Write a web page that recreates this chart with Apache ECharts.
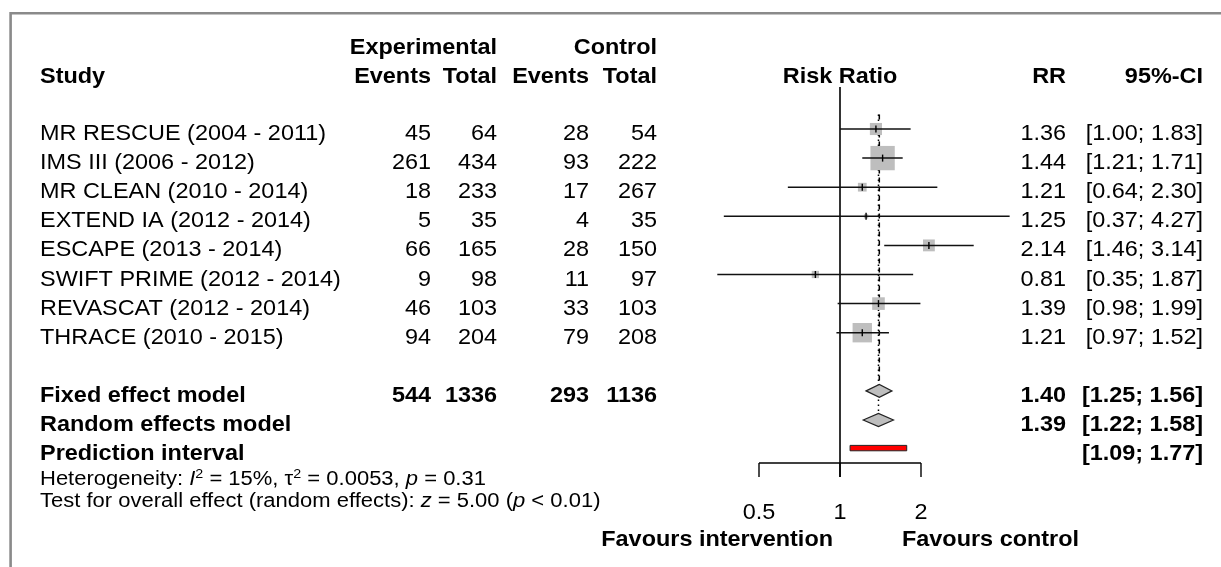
<!DOCTYPE html>
<html>
<head>
<meta charset="utf-8">
<script src="https://cdn.jsdelivr.net/npm/echarts@6/dist/echarts.min.js"></script>
<style>
  html, body { margin: 0; padding: 0; background: #ffffff; }
  #chart { width: 1221px; height: 567px; }
</style>
</head>
<body>
<div id="chart"></div>
<script>
// ---- Study data (risk ratios, 95% CIs, counts) ----
const studies = [
  'MR RESCUE (2004 - 2011)', 'IMS III (2006 - 2012)', 'MR CLEAN (2010 - 2014)',
  'EXTEND IA (2012 - 2014)', 'ESCAPE (2013 - 2014)', 'SWIFT PRIME (2012 - 2014)',
  'REVASCAT (2012 - 2014)', 'THRACE (2010 - 2015)'
];
const expEvents  = [45, 261, 18, 5, 66, 9, 46, 94];
const expTotal   = [64, 434, 233, 35, 165, 98, 103, 204];
const ctrlEvents = [28, 93, 17, 4, 28, 11, 33, 79];
const ctrlTotal  = [54, 222, 267, 35, 150, 97, 103, 208];
const riskRatio  = [1.36, 1.44, 1.21, 1.25, 2.14, 0.81, 1.39, 1.21];
const ciLower    = [1.00, 1.21, 0.64, 0.37, 1.46, 0.35, 0.98, 0.97];
const ciUpper    = [1.83, 1.71, 2.30, 4.27, 3.14, 1.87, 1.99, 1.52];
const weights    = [9.4, 37.9, 4.9, 1.2, 9.0, 3.4, 10.2, 24.1];   // % weight (fixed effect)

// ---- Pooled results ----
const pooledCounts       = [544, 1336, 293, 1136];
const fixedEffect        = [1.40, 1.25, 1.56];   // estimate, lower, upper
const randomEffects      = [1.39, 1.22, 1.58];
const predictionInterval = [1.09, 1.77];
const heterogeneity      = { i2: '15%', tau2: '0.0053', p: '0.31' };
const overallTest        = { z: '5.00', p: '< 0.01' };

// ---- Axis ----
const axisTicks    = [0.5, 1, 2];
const axisTickText = ['0.5', '1', '2'];
const favourLabels = ['Favours intervention', 'Favours control'];

// ---- Layout (row units on the y axis, pixels for table columns) ----
const FONT = '"Liberation Sans", Arial, Helvetica, sans-serif';
const FS = 22, FS_SMALL = 20, STRETCH = 1.065, STRETCH_SMALL = 1.10;
const COL = { study: 40, expEv: 431, expTot: 497, ctrlEv: 589, ctrlTot: 657, rr: 1066, ci: 1203 };
const ROW_FIXED = 9, ROW_RANDOM = 10, ROW_PRED = 11;
const HEAD1 = -2.79, HEAD2 = -1.80, TEXT_SHIFT = 0.17;
const ROW_HET = 12.03, ROW_TEST = 12.81, ROW_TICKLAB = 13.20, ROW_FAVOUR = 14.12;
const ROW_REF_TOP = -1.443, ROW_AXIS = 11.478, ROW_TICK_END = 11.959, ROW_POOL_TOP = -0.5;
const BOX_SCALE = 3.95, DIAMOND_HALF = 6.5;

const fmt = v => v.toFixed(2);
const ciText = (lo, hi) => '[' + fmt(lo) + '; ' + fmt(hi) + ']';

// table text cells
const cells = [];
function cell(text, row, align, bold, opts) {
  cells.push(Object.assign({ text, row, align, bold }, opts));
}
cell('Experimental', HEAD1, 'right', true, { px: COL.expTot });
cell('Control', HEAD1, 'right', true, { px: COL.ctrlTot });
cell('Study', HEAD2, 'left', true, { px: COL.study });
cell('Events', HEAD2, 'right', true, { px: COL.expEv });
cell('Total', HEAD2, 'right', true, { px: COL.expTot });
cell('Events', HEAD2, 'right', true, { px: COL.ctrlEv });
cell('Total', HEAD2, 'right', true, { px: COL.ctrlTot });
cell('Risk Ratio', HEAD2, 'center', true, { xv: 1 });
cell('RR', HEAD2, 'right', true, { px: COL.rr });
cell('95%-CI', HEAD2, 'right', true, { px: COL.ci });

studies.forEach((name, i) => {
  const r = i + TEXT_SHIFT;
  cell(name, r, 'left', false, { px: COL.study });
  cell(String(expEvents[i]), r, 'right', false, { px: COL.expEv });
  cell(String(expTotal[i]), r, 'right', false, { px: COL.expTot });
  cell(String(ctrlEvents[i]), r, 'right', false, { px: COL.ctrlEv });
  cell(String(ctrlTotal[i]), r, 'right', false, { px: COL.ctrlTot });
  cell(fmt(riskRatio[i]), r, 'right', false, { px: COL.rr });
  cell(ciText(ciLower[i], ciUpper[i]), r, 'right', false, { px: COL.ci });
});

const rf = ROW_FIXED + TEXT_SHIFT, rr2 = ROW_RANDOM + TEXT_SHIFT, rp = ROW_PRED + TEXT_SHIFT;
cell('Fixed effect model', rf, 'left', true, { px: COL.study });
cell(String(pooledCounts[0]), rf, 'right', true, { px: COL.expEv });
cell(String(pooledCounts[1]), rf, 'right', true, { px: COL.expTot });
cell(String(pooledCounts[2]), rf, 'right', true, { px: COL.ctrlEv });
cell(String(pooledCounts[3]), rf, 'right', true, { px: COL.ctrlTot });
cell(fmt(fixedEffect[0]), rf, 'right', true, { px: COL.rr });
cell(ciText(fixedEffect[1], fixedEffect[2]), rf, 'right', true, { px: COL.ci });
cell('Random effects model', rr2, 'left', true, { px: COL.study });
cell(fmt(randomEffects[0]), rr2, 'right', true, { px: COL.rr });
cell(ciText(randomEffects[1], randomEffects[2]), rr2, 'right', true, { px: COL.ci });
cell('Prediction interval', rp, 'left', true, { px: COL.study });
cell(ciText(predictionInterval[0], predictionInterval[1]), rp, 'right', true, { px: COL.ci });

cell('Heterogeneity: {i|I}{sup|2} = ' + heterogeneity.i2 + ', τ{sup|2} = ' + heterogeneity.tau2 +
     ', {i|p} = ' + heterogeneity.p, ROW_HET, 'left', false, { px: COL.study, small: true });
cell('Test for overall effect (random effects): {i|z} = ' + overallTest.z + ' ({i|p} ' + overallTest.p + ')',
     ROW_TEST, 'left', false, { px: COL.study, small: true });

axisTicks.forEach((t, i) => cell(axisTickText[i], ROW_TICKLAB, 'center', false, { xv: t }));
cell(favourLabels[0], ROW_FAVOUR, 'right', true, { xv: 1, dx: -7 });
cell(favourLabels[1], ROW_FAVOUR, 'left', true, { xv: 1, dx: 62 });

function richFor(size) {
  return {
    i: { fontFamily: FONT, fontSize: size, fontStyle: 'italic', lineHeight: 24 },
    sup: { fontFamily: FONT, fontSize: 13, lineHeight: 13, verticalAlign: 'top', padding: [1, 0, 0, 0] }
  };
}

const chart = echarts.init(document.getElementById('chart'));

chart.setOption({
  animation: false,
  backgroundColor: '#ffffff',
  grid: { left: 0, right: 0, top: 0, bottom: 0, containLabel: false },
  xAxis: { type: 'log', logBase: 2, min: Math.pow(2, -840 / 81), max: Math.pow(2, 381 / 81), show: false },
  yAxis: { type: 'value', inverse: true, min: -4.433, max: 15.052, show: false },
  graphic: [{
    type: 'rect', z: 0,
    shape: { x: 10.6, y: 13.3, width: 1400, height: 800 },
    style: { fill: 'none', stroke: '#8a8a8a', lineWidth: 2.6 }
  }],
  series: [
    // reference line at RR = 1 and the horizontal axis
    {
      type: 'custom', name: 'axis', z: 2,
      data: [[1, ROW_AXIS]],
      renderItem(params, api) {
        const ref = api.coord([1, ROW_REF_TOP]);
        const tickEnd = api.coord([1, ROW_TICK_END])[1];
        const a0 = api.coord([axisTicks[0], ROW_AXIS]);
        const a1 = api.coord([axisTicks[axisTicks.length - 1], ROW_AXIS]);
        const kids = [
          { type: 'line', shape: { x1: ref[0], y1: ref[1], x2: ref[0], y2: tickEnd }, style: { stroke: '#000', lineWidth: 1.6 } },
          { type: 'line', shape: { x1: a0[0], y1: a0[1], x2: a1[0], y2: a1[1] }, style: { stroke: '#000', lineWidth: 1.4 } }
        ];
        axisTicks.forEach(t => {
          const p = api.coord([t, ROW_AXIS]);
          kids.push({ type: 'line', shape: { x1: p[0], y1: p[1], x2: p[0], y2: tickEnd }, style: { stroke: '#000', lineWidth: 1.4 } });
        });
        return { type: 'group', children: kids };
      }
    },
    // pooled estimate guide lines: fixed (dashed) and random (dotted)
    {
      type: 'custom', name: 'pooled lines', z: 3,
      data: [[fixedEffect[0], ROW_FIXED, 0], [randomEffects[0], ROW_RANDOM, 1]],
      renderItem(params, api) {
        const x = api.value(0), row = api.value(1);
        const top = api.coord([x, ROW_POOL_TOP]);
        const end = api.coord([x, row]);
        const dash = api.value(2) === 0 ? [5, 4] : [1.5, 3.5];
        return {
          type: 'line',
          shape: { x1: top[0], y1: top[1], x2: end[0], y2: end[1] - DIAMOND_HALF },
          style: { stroke: '#000', lineWidth: 1.5, lineDash: dash }
        };
      }
    },
    // study boxes with confidence intervals
    {
      type: 'custom', name: 'studies', z: 4,
      data: studies.map((s, i) => [riskRatio[i], i, ciLower[i], ciUpper[i], weights[i]]),
      encode: { x: 0, y: 1 },
      renderItem(params, api) {
        const row = api.value(1);
        const c = api.coord([api.value(0), row]);
        const lo = api.coord([api.value(2), row]);
        const hi = api.coord([api.value(3), row]);
        const side = BOX_SCALE * Math.sqrt(api.value(4));
        return {
          type: 'group',
          children: [
            { type: 'rect', shape: { x: c[0] - side / 2, y: c[1] - side / 2, width: side, height: side }, style: { fill: '#bebebe' } },
            { type: 'line', shape: { x1: lo[0], y1: lo[1], x2: hi[0], y2: hi[1] }, style: { stroke: '#111', lineWidth: 1.5 } },
            { type: 'line', shape: { x1: c[0], y1: c[1] - 3.5, x2: c[0], y2: c[1] + 3.5 }, style: { stroke: '#000', lineWidth: 1.4 } }
          ]
        };
      }
    },
    // pooled diamonds
    {
      type: 'custom', name: 'diamonds', z: 5,
      data: [
        [fixedEffect[0], ROW_FIXED, fixedEffect[1], fixedEffect[2]],
        [randomEffects[0], ROW_RANDOM, randomEffects[1], randomEffects[2]]
      ],
      encode: { x: 0, y: 1 },
      renderItem(params, api) {
        const row = api.value(1);
        const c = api.coord([api.value(0), row]);
        const lo = api.coord([api.value(2), row]);
        const hi = api.coord([api.value(3), row]);
        return {
          type: 'polygon',
          shape: { points: [[lo[0], c[1]], [c[0], c[1] - DIAMOND_HALF], [hi[0], c[1]], [c[0], c[1] + DIAMOND_HALF]] },
          style: { fill: '#bebebe', stroke: '#222', lineWidth: 1.2 }
        };
      }
    },
    // prediction interval bar
    {
      type: 'custom', name: 'prediction', z: 5,
      data: [[predictionInterval[0], ROW_PRED, predictionInterval[1]]],
      encode: { x: 0, y: 1 },
      renderItem(params, api) {
        const row = api.value(1);
        const lo = api.coord([api.value(0), row]);
        const hi = api.coord([api.value(2), row]);
        return {
          type: 'rect',
          shape: { x: lo[0], y: lo[1] - 3.7, width: hi[0] - lo[0], height: 5.4 },
          style: { fill: '#ff0000', stroke: '#222', lineWidth: 1 }
        };
      }
    },
    // table text, header, statistics and axis labels
    {
      type: 'custom', name: 'text', z: 6,
      data: cells.map(c => [c.xv != null ? c.xv : 1, c.row]),
      renderItem(params, api) {
        const c = cells[params.dataIndex];
        const p = api.coord([api.value(0), api.value(1)]);
        const x = c.px != null ? c.px : p[0] + (c.dx || 0);
        const size = c.small ? FS_SMALL : FS;
        return {
          type: 'text',
          x: x, y: p[1],
          scaleX: c.small ? STRETCH_SMALL : STRETCH, scaleY: 1,
          style: {
            x: 0, y: 0,
            text: c.text,
            align: c.align,
            verticalAlign: 'middle',
            fontFamily: FONT,
            fontSize: size,
            fontWeight: c.bold ? 'bold' : 'normal',
            lineHeight: 24,
            fill: '#000',
            rich: richFor(size)
          }
        };
      }
    }
  ]
});
</script>
</body>
</html>
